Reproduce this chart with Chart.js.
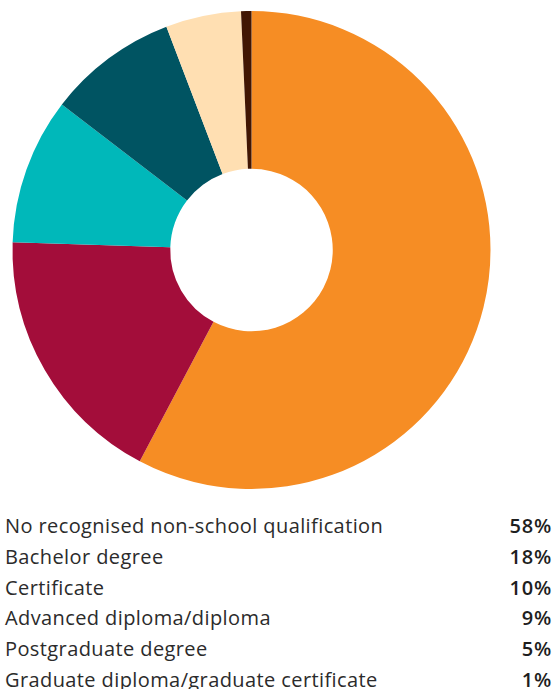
<!DOCTYPE html>
<html>
<head>
<meta charset="utf-8">
<script src="https://cdn.jsdelivr.net/npm/chart.js@4/dist/chart.umd.min.js"></script>
<style>
  html, body { margin: 0; padding: 0; background: #fff; }
  #wrap { position: relative; width: 554px; height: 689px; overflow: hidden; }
  #chartBox { position: absolute; left: 0; top: 0; width: 554px; height: 500px; }
  #legend { position: absolute; left: 5px; right: 2px; top: 511px; font-family: "Open Sans", "Noto Sans", sans-serif; font-size: 20px; letter-spacing: 0.4px; color: #2b2b2b; }
  .row { display: flex; justify-content: space-between; height: 30.8px; line-height: 30.8px; white-space: nowrap; }
  .pct { font-weight: 600; letter-spacing: 0.8px; color: #1e1e1e; }
</style>
</head>
<body>
<div id="wrap">
  <div id="chartBox"><canvas id="c" width="554" height="500"></canvas></div>
  <div id="legend"></div>
</div>
<script>
const categories = [
  "No recognised non-school qualification",
  "Bachelor degree",
  "Certificate",
  "Advanced diploma/diploma",
  "Postgraduate degree",
  "Graduate diploma/graduate certificate"
];
const values = [57.8, 17.8, 9.9, 8.8, 5.1, 0.7];
const valueLabels = ["58%", "18%", "10%", "9%", "5%", "1%"];
const colors = ["#F68D24", "#A30D3A", "#00B8BA", "#005462", "#FFDFB2", "#421602"];

new Chart(document.getElementById("c"), {
  type: "doughnut",
  data: {
    labels: categories,
    datasets: [{
      data: values,
      backgroundColor: colors,
      borderWidth: 0,
      hoverOffset: 0
    }]
  },
  options: {
    responsive: false,
    animation: false,
    cutout: "34%",
    layout: { padding: { left: 12, right: 63, top: 11, bottom: 11 } },
    plugins: { legend: { display: false }, tooltip: { enabled: false } }
  }
});

const legend = document.getElementById("legend");
categories.forEach((cat, i) => {
  const row = document.createElement("div");
  row.className = "row";
  const l = document.createElement("span");
  l.textContent = cat;
  const r = document.createElement("span");
  r.className = "pct";
  r.textContent = valueLabels[i];
  row.appendChild(l);
  row.appendChild(r);
  legend.appendChild(row);
});
</script>
</body>
</html>
